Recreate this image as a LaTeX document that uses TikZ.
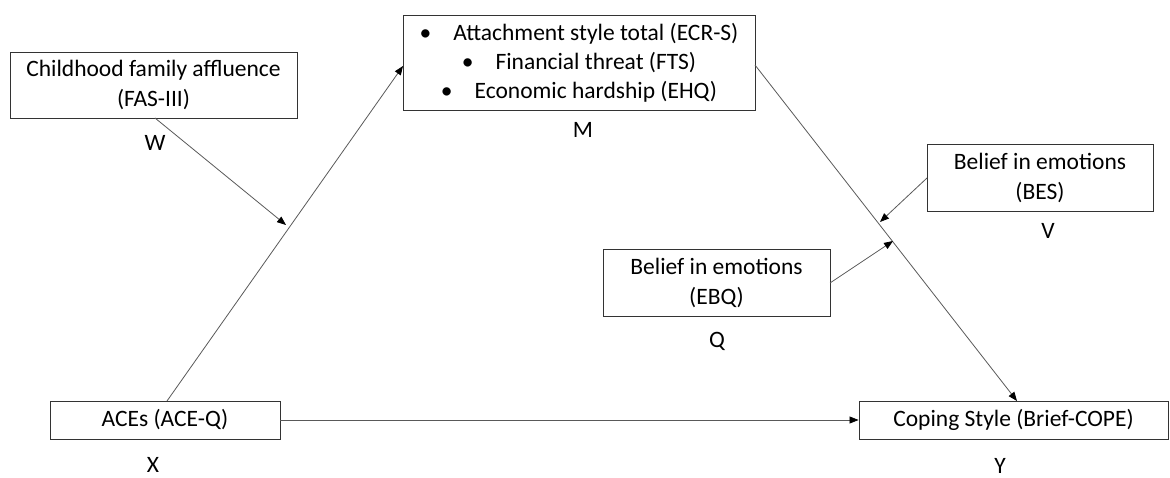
\documentclass[tikz,border=0pt]{standalone}
\usepackage{fontspec}
\setmainfont{Carlito}
\usetikzlibrary{arrows.meta,calc}
\begin{document}
\begin{tikzpicture}[x=1pt,y=-1pt,
  box/.style={draw=black!80,line width=0.9pt,rectangle,inner sep=0pt,align=center,
    font=\fontsize{23.5}{30}\selectfont},
  lbl/.style={font=\fontsize{23.5}{28}\selectfont,inner sep=0pt},
  link/.style={draw=black!65,line width=0.8pt},
  arr/.style={link,-{Triangle[length=9pt,width=7pt,color=black]}}]
\useasboundingbox (0,0) rectangle (1170,478);

% variable boxes
\node[box,minimum width=287pt,minimum height=66pt] (W) at (153.5,85) {Childhood family affluence\\(FAS-III)};
\node[box,minimum width=352pt,minimum height=95pt,font=\fontsize{23.5}{29}\selectfont] (M) at (579,62.5)
  {\textbullet\hspace{22pt}Attachment style total (ECR-S)\\
   \textbullet\hspace{22pt}Financial threat (FTS)\\
   \textbullet\hspace{22pt}Economic hardship (EHQ)};
\node[box,minimum width=226pt,minimum height=67pt] (V) at (1040,178) {Belief in emotions\\(BES)};
\node[box,minimum width=227pt,minimum height=67pt] (Q) at (716.5,282.5) {Belief in emotions\\(EBQ)};
\node[box,minimum width=230pt,minimum height=38pt] (X) at (165,420) {ACEs (ACE-Q)};
\node[box,minimum width=309pt,minimum height=38pt] (Y) at (1013.5,420) {Coping Style (Brief-COPE)};

% letters under the boxes
\node[lbl] (lW) at (155,143) {W};
\node[lbl] (lM) at (583,130) {M};
\node[lbl] (lV) at (1048,231) {V};
\node[lbl] (lQ) at (717,341) {Q};
\node[lbl] (lX) at (153,465) {X};
\node[lbl] (lY) at (1000,466) {Y};

% anchor points of the paths
\coordinate (xm0) at (167,401);
\coordinate (xm1) at (403,66);
\coordinate (my0) at (755,65);
\coordinate (my1) at (1017,401);
\coordinate (wtip) at (286,225);
\coordinate (vtip) at (880,222);
\coordinate (qtip) at (893,241);
\coordinate (wsrc) at (155,118);
\coordinate (vsrc) at (927,178);
\coordinate (qsrc) at (830,283);

% main paths
\draw[arr] (xm0) -- (xm1);
\draw[arr] (my0) -- (my1);
\draw[arr] (X.east) -- (Y.west);

% moderator paths
\draw[arr] (wsrc) -- (wtip);
\draw[arr] (vsrc) -- (vtip);
\draw[arr] (qsrc) -- (qtip);
\end{tikzpicture}
\end{document}
